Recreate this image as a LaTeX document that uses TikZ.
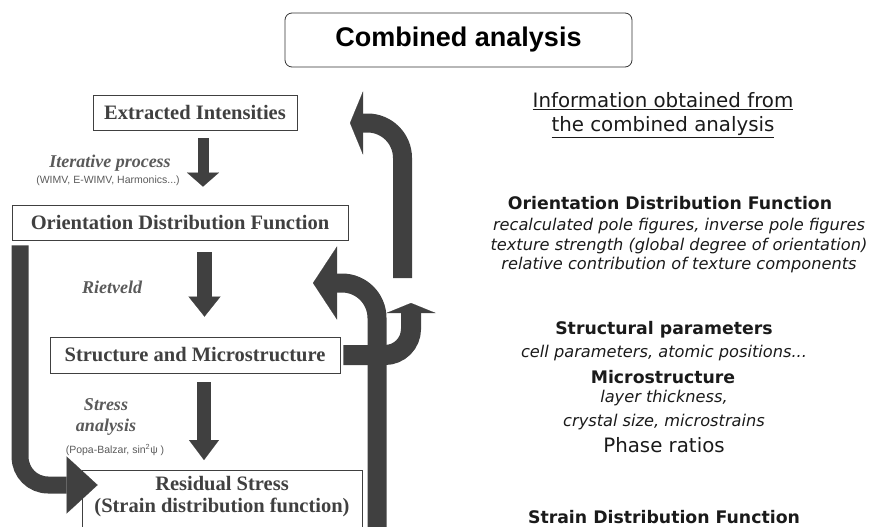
\documentclass[tikz,border=0pt]{standalone}
\usepackage{fontspec}
\setmainfont{Liberation Serif}
\newfontfamily\arialfont{Liberation Sans}
\newfontfamily\comicfont{DejaVu Sans}
\usetikzlibrary{arrows.meta}
\definecolor{arrowgray}{HTML}{404040}
\definecolor{boxgray}{HTML}{404040}
\definecolor{labelgray}{HTML}{5A5A5A}
\definecolor{inkblack}{HTML}{1A1A1A}
\tikzset{
  % boxes
  titlebox/.style={draw=black!80,rounded corners=7pt,line width=0.8pt,
    minimum width=347pt,minimum height=54pt,inner sep=0pt,
    font=\arialfont\fontsize{27}{32}\selectfont\bfseries},
  stepbox/.style={draw=boxgray,line width=0.8pt,fill=white,text=boxgray,
    inner sep=0pt,minimum height=35pt,
    font=\fontsize{20.5}{22}\selectfont\bfseries},
  % labels
  proc/.style={text=labelgray,inner sep=0pt,align=center,
    font=\fontsize{18}{21}\selectfont\bfseries\itshape},
  method/.style={text=labelgray,inner sep=0pt,
    font=\arialfont\fontsize{10.5}{12}\selectfont},
  info/.style={text=inkblack,inner sep=0pt,align=center},
  inforeg/.style={info,font=\comicfont\fontsize{19.8}{24}\selectfont},
  infobold/.style={info,font=\comicfont\fontsize{17.3}{21}\selectfont\bfseries},
  infoit/.style={info,font=\comicfont\fontsize{16.2}{19.5}\selectfont\itshape},
  % arrows
  shaft/.style={draw=arrowgray,line width=#1},
  fat/.style 2 args={-{Triangle[length=#1,width=#2,line width=0.1pt]}},
}
\begin{document}
\begin{tikzpicture}[x=1pt,y=-1pt]
\useasboundingbox (0,0) rectangle (870,527);
\clip (0,0) rectangle (870,527);
\node[titlebox] (title) at (458.5,40) {Combined analysis};
% steps of the analysis
\node[stepbox,minimum width=204pt] (ext) at (195,112.5) {Extracted Intensities};
\node[stepbox,minimum width=336pt] (odf) at (180,222.5) {Orientation Distribution Function};
\node[stepbox,minimum width=290pt,minimum height=36pt] (mic) at (195,355) {Structure and Microstructure};
\node[stepbox,minimum width=280pt,anchor=north,align=center,inner ysep=6pt,
  text depth=40pt] (res) at (222,470) {Residual Stress\\(Strain distribution function)};
% methods
\node[proc] (iterlab) at (110,163) {Iterative process};
\node[method] (iterlist) at (108,181) {(WIMV, E-WIMV, Harmonics...)};
\node[proc] (rietlab) at (112,287) {Rietveld};
\node[proc] (stresslab) at (106,417) {Stress\\analysis};
\node[method] (stresslist) at (115,450) {(Popa-Balzar, sin\textsuperscript{2}ψ )};
% down arrows
\draw[shaft=11pt,fat={14pt}{32pt},shorten <=8pt,shorten >=18pt]
  ([xshift=8pt]ext.south) -- ([xshift=8pt]ext.south |- odf.north);
\draw[shaft=15pt,fat={20pt}{32pt},shorten <=12pt,shorten >=20pt]
  ([xshift=9.5pt]odf.south -| mic.north) -- ([xshift=9.5pt]mic.north);
\draw[shaft=14pt,fat={20pt}{30pt},shorten <=9pt,shorten >=10pt]
  ([xshift=9pt]mic.south) -- ([xshift=9pt]mic.south |- res.north);
% loops
\coordinate (fbin) at (377,540);
\coordinate (fbtip) at (313,283);
\coordinate (upin) at (402.5,278);
\coordinate (uptip) at (350,123);
\coordinate (smtip) at (411,303);
\draw[shaft=17pt,fat={31pt}{57pt},rounded corners=28pt]
  ([xshift=8.5pt,yshift=-5pt]odf.south west) |- ([xshift=16pt,yshift=-15pt]res.north west);
\draw[shaft=19pt,fat={24pt}{73pt},rounded corners=35pt] (fbin) |- (fbtip);
\draw[shaft=19pt,fat={13pt}{63pt},rounded corners=35pt] (upin) |- (uptip);
\draw[shaft=20pt,fat={10pt}{49pt},rounded corners=26pt,shorten <=3pt] (mic.east) -| (smtip);
% information obtained
\node[inforeg] (infohead) at (663,115) {\underline{Information obtained from}\\\underline{the combined analysis}};
\node[infobold] (odfinfo) at (670,203) {Orientation Distribution Function};
\node[infoit] (odfdetail) at (679,246) {recalculated pole figures, inverse pole figures\\
  texture strength (global degree of orientation)\\relative contribution of texture components};
\node[infobold] (structinfo) at (664,330) {Structural parameters};
\node[infoit] (structdetail) at (664,353) {cell parameters, atomic positions...};
\node[infobold] (microinfo) at (663,377) {Microstructure};
\node[infoit,font=\comicfont\fontsize{16.2}{24}\selectfont\itshape] (microdetail) at (664,410) {layer thickness,\\crystal size, microstrains};
\node[inforeg] (phaseinfo) at (664,445) {Phase ratios};
\node[infobold] (straininfo) at (664,517) {Strain Distribution Function};
\end{tikzpicture}
\end{document}
